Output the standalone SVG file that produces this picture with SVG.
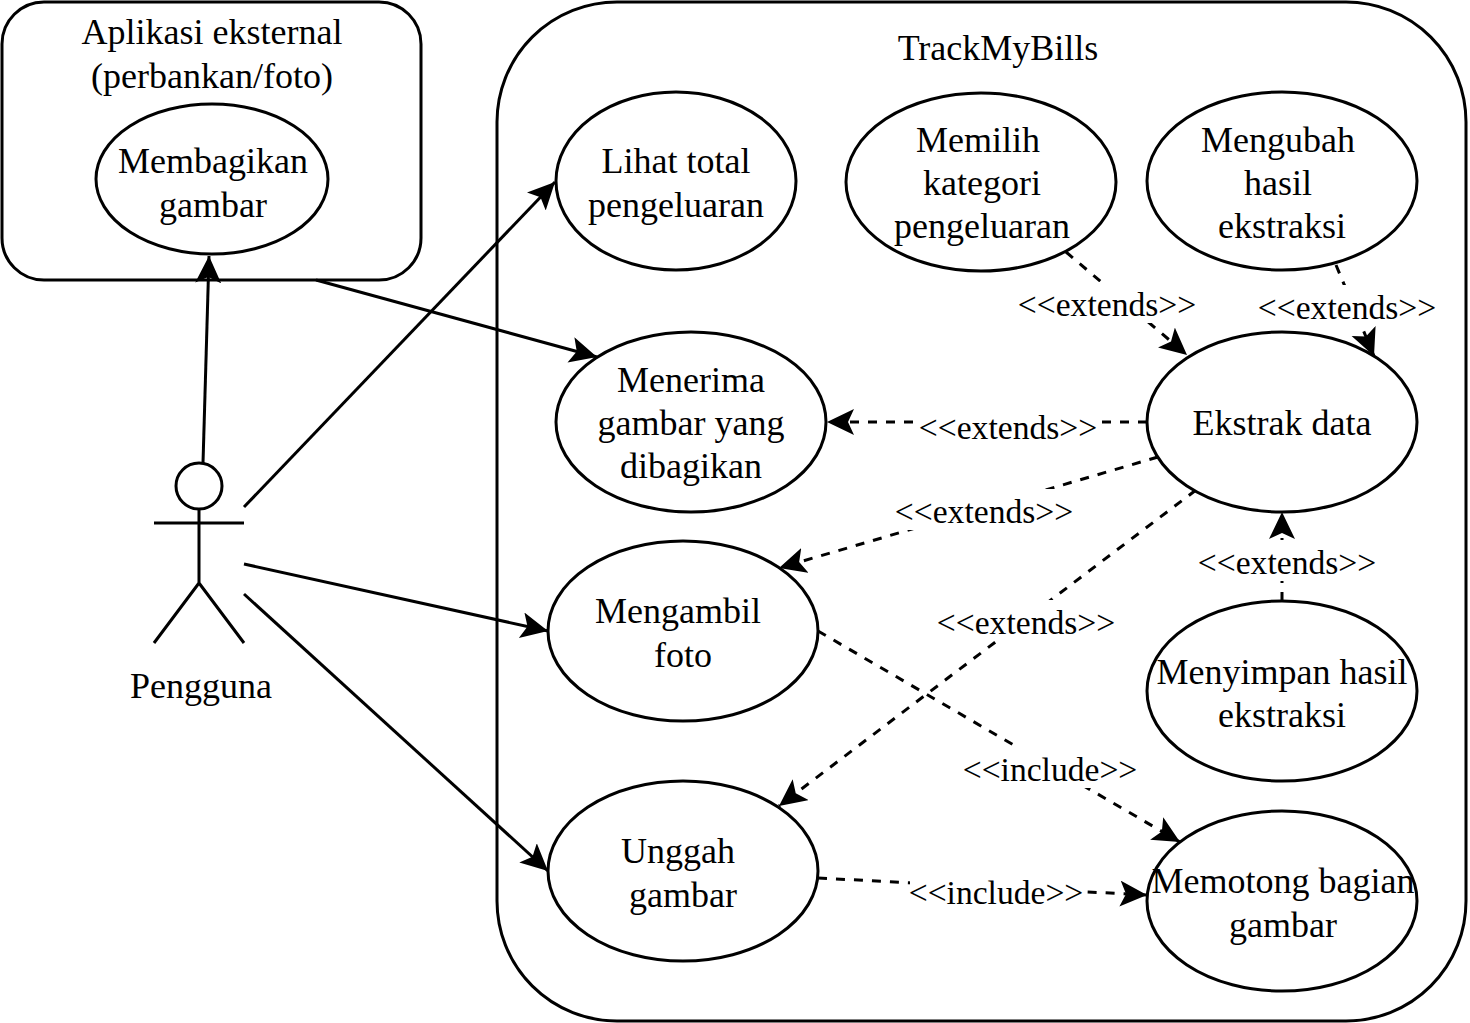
<svg xmlns="http://www.w3.org/2000/svg" width="1470" height="1023" viewBox="0 0 1470 1023">
<style>
text{font-family:"Liberation Serif","Times New Roman",serif;font-size:36px;fill:#000;text-anchor:middle}
.s{fill:none;stroke:#000;stroke-width:3}
.n{fill:#fff;stroke:#000;stroke-width:3}
.c{fill:none;stroke:#000;stroke-width:3;marker-end:url(#a)}
.d{stroke-dasharray:9 9}
.l{fill:#fff;stroke:none}
text.lb{font-size:33.6px}
</style>
<defs><marker id="a" markerUnits="userSpaceOnUse" markerWidth="32" markerHeight="28" refX="27" refY="13" orient="auto" viewBox="0 0 32 28"><path d="M0 0L27 13L0 26L6 13Z" fill="#000"/></marker></defs>
<rect width="1470" height="1023" fill="#fff"/>
<g id="boundary-external"><rect class="s" x="2" y="2" width="419" height="278" rx="42"/><text x="212" y="44">Aplikasi eksternal</text><text x="212" y="88">(perbankan/foto)</text></g>
<g id="boundary-system"><rect class="s" x="497" y="2" width="969" height="1019" rx="120"/><text x="998" y="60">TrackMyBills</text></g>
<g id="connectors">
<path class="c" d="M203 463L209 256"/>
<path class="c" d="M244 507L555 182"/>
<path class="c" d="M316 280L597 357"/>
<path class="c" d="M244 564L548 631"/>
<path class="c" d="M244 594L548 871"/>
<path class="c d" d="M1066 252L1187 355"/>
<path class="c d" d="M1336 265L1374 356"/>
<path class="c d" d="M1147 422L827 422"/>
<path class="c d" d="M1158 457L779 568"/>
<path class="c d" d="M1196 490L779 806"/>
<path class="c d" d="M1282 601L1282 512"/>
<path class="c d" d="M818 631L1180 842"/>
<path class="c d" d="M818 878L1147 895"/>
</g>
<g id="connector-labels">
<rect class="l" x="1019" y="282" width="177" height="41"/><text class="lb" x="1107" y="316">&lt;&lt;extends&gt;&gt;</text>
<rect class="l" x="1259" y="285" width="177" height="41"/><text class="lb" x="1347" y="319">&lt;&lt;extends&gt;&gt;</text>
<rect class="l" x="919" y="405" width="177" height="41"/><text class="lb" x="1008" y="439">&lt;&lt;extends&gt;&gt;</text>
<rect class="l" x="896" y="489" width="177" height="41"/><text class="lb" x="984" y="523">&lt;&lt;extends&gt;&gt;</text>
<rect class="l" x="1199" y="540" width="177" height="41"/><text class="lb" x="1287" y="574">&lt;&lt;extends&gt;&gt;</text>
<rect class="l" x="938" y="600" width="177" height="41"/><text class="lb" x="1026" y="634">&lt;&lt;extends&gt;&gt;</text>
<rect class="l" x="964" y="747" width="173" height="41"/><text class="lb" x="1050" y="781">&lt;&lt;include&gt;&gt;</text>
<rect class="l" x="910" y="870" width="173" height="41"/><text class="lb" x="996" y="904">&lt;&lt;include&gt;&gt;</text>
</g>
<g id="actor"><circle class="s" cx="199" cy="486" r="23"/><path class="s" d="M154 523H244M199 509V583M199 583L154 643M199 583L244 643"/><text x="201" y="698">Pengguna</text></g>
<g id="membagikan"><ellipse class="n" cx="212" cy="179" rx="116" ry="75"/><text x="213" y="173">Membagikan</text><text x="213" y="217">gambar</text></g>
<g id="lihat"><ellipse class="n" cx="676" cy="181" rx="120" ry="89"/><text x="676" y="173">Lihat total</text><text x="676" y="217">pengeluaran</text></g>
<g id="memilih"><ellipse class="n" cx="981" cy="182" rx="135" ry="89"/><text x="978" y="152">Memilih</text><text x="982" y="195">kategori</text><text x="982" y="238">pengeluaran</text></g>
<g id="mengubah"><ellipse class="n" cx="1282" cy="181" rx="135" ry="89"/><text x="1278" y="152">Mengubah</text><text x="1278" y="195">hasil</text><text x="1282" y="238">ekstraksi</text></g>
<g id="menerima"><ellipse class="n" cx="691" cy="422" rx="135" ry="90"/><text x="691" y="392">Menerima</text><text x="691" y="435">gambar yang</text><text x="691" y="478">dibagikan</text></g>
<g id="ekstrak"><ellipse class="n" cx="1282" cy="422" rx="135" ry="90"/><text x="1282" y="435">Ekstrak data</text></g>
<g id="mengambil"><ellipse class="n" cx="683" cy="631" rx="135" ry="90"/><text x="678" y="623">Mengambil</text><text x="683" y="667">foto</text></g>
<g id="menyimpan"><ellipse class="n" cx="1282" cy="691" rx="135" ry="90"/><text x="1282" y="684">Menyimpan hasil</text><text x="1282" y="727">ekstraksi</text></g>
<g id="unggah"><ellipse class="n" cx="683" cy="871" rx="135" ry="90"/><text x="678" y="863">Unggah</text><text x="683" y="907">gambar</text></g>
<g id="memotong"><ellipse class="n" cx="1282" cy="901" rx="135" ry="90"/><text x="1283" y="893">Memotong bagian</text><text x="1283" y="937">gambar</text></g>
</svg>
